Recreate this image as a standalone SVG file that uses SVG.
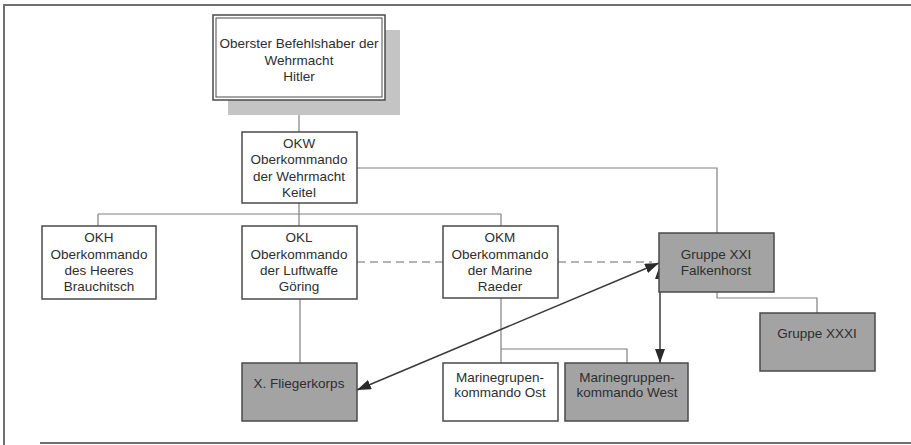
<svg xmlns="http://www.w3.org/2000/svg" width="911" height="445" viewBox="0 0 911 445">
<style>
.box{fill:#fff;stroke:#4a4a4a;stroke-width:1.5}
.gbox{fill:#a3a3a3;stroke:#4a4a4a;stroke-width:1.5}
.ln{fill:none;stroke:#808080;stroke-width:1.2}
.dash{fill:none;stroke:#6a6a6a;stroke-width:1.2;stroke-dasharray:8 5}
.arr{fill:none;stroke:#3a3a3a;stroke-width:1.5;marker-start:url(#ah);marker-end:url(#ah)}
.frame{fill:none;stroke:#6f6f6f;stroke-width:2}
text{font-family:"Liberation Sans",Arial,sans-serif;font-size:13.5px;fill:#2e2e2e;text-anchor:middle}
</style>
<defs>
<marker id="ah" viewBox="0 0 14 10" refX="14" refY="5" markerWidth="14" markerHeight="10" markerUnits="userSpaceOnUse" orient="auto-start-reverse">
<path d="M0,0 L14,5 L0,10 Z" fill="#2a2a2a"/>
</marker>
</defs>
<rect width="911" height="445" fill="#fff"/>
<g id="frame">
<path class="frame" d="M4,445 V5 H911"/>
<path class="frame" d="M40,443 H911"/>
</g>
<g id="connectors">
<path class="ln" d="M299,100 V132"/>
<path class="ln" d="M299,203 V214 M98,214 H501 M98,214 V226 M299,214 V226 M501,214 V226"/>
<path class="ln" d="M357,168 H717 V233"/>
<path class="dash" d="M357,262 H443 M558,262 H652"/>
<path class="ln" d="M300,299 V363"/>
<path class="ln" d="M501,298 V363 M501,349 H627 V363"/>
<path class="ln" d="M717,292 V298 H817 V313"/>
<path class="arr" d="M357,390 L659,263"/>
<path class="arr" d="M660,265 V363"/>
</g>
<g id="hitler">
<rect x="228" y="30" width="172" height="85" fill="#c4c4c4"/>
<rect x="213" y="15" width="172" height="85" fill="#fff" stroke="#4a4a4a" stroke-width="1.5"/>
<rect x="216" y="18" width="166" height="79" fill="none" stroke="#4a4a4a" stroke-width="1"/>
<text x="299" y="48">Oberster Befehlshaber der</text>
<text x="299" y="65">Wehrmacht</text>
<text x="299" y="81">Hitler</text>
</g>
<g id="okw">
<rect class="box" x="242" y="132" width="115" height="71"/>
<text x="299" y="148">OKW</text>
<text x="299" y="164">Oberkommando</text>
<text x="299" y="181">der Wehrmacht</text>
<text x="299" y="197">Keitel</text>
</g>
<g id="okh">
<rect class="box" x="42" y="226" width="114" height="73"/>
<text x="99" y="242">OKH</text>
<text x="99" y="259">Oberkommando</text>
<text x="99" y="275">des Heeres</text>
<text x="99" y="291">Brauchitsch</text>
</g>
<g id="okl">
<rect class="box" x="242" y="226" width="115" height="73"/>
<text x="299" y="242">OKL</text>
<text x="299" y="259">Oberkommando</text>
<text x="299" y="275">der Luftwaffe</text>
<text x="299" y="291">Göring</text>
</g>
<g id="okm">
<rect class="box" x="443" y="226" width="115" height="72"/>
<text x="500" y="242">OKM</text>
<text x="500" y="259">Oberkommando</text>
<text x="500" y="275">der Marine</text>
<text x="500" y="291">Raeder</text>
</g>
<g id="gruppe21">
<rect class="gbox" x="659" y="233" width="115" height="59"/>
<text x="716" y="259">Gruppe XXI</text>
<text x="716" y="275">Falkenhorst</text>
</g>
<g id="gruppe31">
<rect class="gbox" x="760" y="313" width="115" height="58"/>
<text x="817" y="338">Gruppe XXXI</text>
</g>
<g id="fliegerkorps">
<rect class="gbox" x="242" y="363" width="115" height="58"/>
<text x="299" y="388">X. Fliegerkorps</text>
</g>
<g id="mgk_ost">
<rect class="box" x="443" y="363" width="115" height="58"/>
<text x="500" y="382">Marinegrupen-</text>
<text x="500" y="397">kommando Ost</text>
</g>
<g id="mgk_west">
<rect class="gbox" x="565" y="363" width="123" height="58"/>
<text x="627" y="382">Marinegruppen-</text>
<text x="627" y="397">kommando West</text>
</g>
</svg>
